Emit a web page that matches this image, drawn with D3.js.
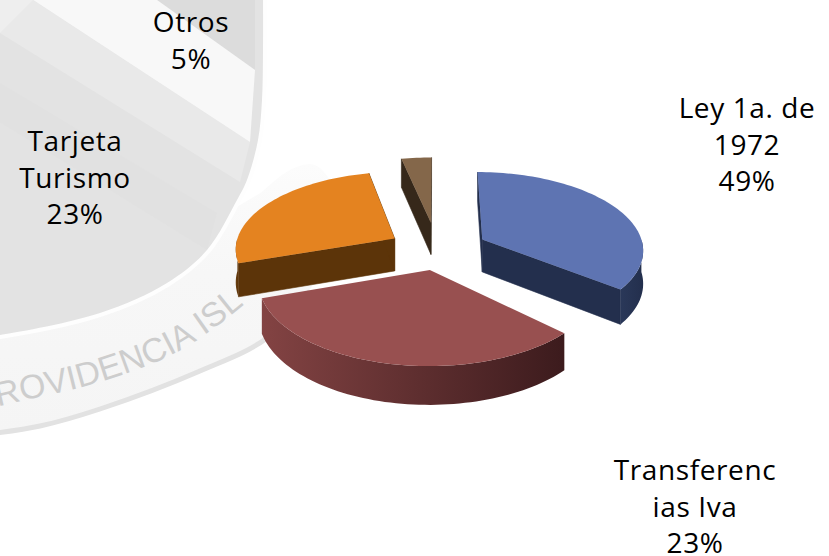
<!DOCTYPE html>
<html><head><meta charset="utf-8">
<script src="https://cdn.jsdelivr.net/npm/d3@7/dist/d3.min.js"></script>
<style>html,body{margin:0;padding:0;background:#fff}svg{display:block}</style>
</head><body><svg id="c" width="829" height="556"></svg>
<script>
// Data
const categories = ["Ley 1a. de 1972","Transferencias Iva","Tarjeta Turismo","Otros"];
const labelPercents = [49,23,23,5];           // printed labels
const drawnShares = [35.6,34.2,26.8,3.4];     // angular share of each slice as actually drawn
const labelLines = [["Ley 1a. de","1972"],["Transferenc","ias Iva"],["Tarjeta","Turismo"],["Otros"]];
const labelCentres = [[747,118],[695,480],[75,151],[191,32]];
// Styling
const explode = [0.31,0.25,0.30,0.36];
const radiusFactor = [0.98,1,0.97,1];
const startTrim = [0,0.09,0,0];
const topColors = ["#5e74b2","#985050","#e48320","#84674a"];
const faceColors = ["#232f4d","#3f1d1e","#5c3409","#36281a"];
const rimLeft = ["#2a3859","#834343","#6b4012","#36281a"];
const rimRight = ["#232f4d","#3c1b1d","#5c3409","#36281a"];

const W=829,H=556,cx=437,cy=250,R=165,q=0.48,p=0.12,depth=33;
const svg=d3.select("#c");
const defs=svg.append("defs");

// ---- watermark ----
const wm=svg.append("g");
const line=d3.line().curve(d3.curveCatmullRom);
const bandEdge=[[-20,434],[40,425],[100,408],[200,370],[267,337],[310,290],[330,232],[335,192],[315,165],[290,170],[262,192]];
const disc=[[-100,345],[-20,337],[0,335],[100,313],[167,283],[207,250],[237,200],[247,180],[258,140],[262,100],[263,50],[263,-20],[263,-80],[-100,-80]];
const bandFill=defs.append("linearGradient").attr("id","bandFill").attr("x1",0).attr("x2",0).attr("y1",0).attr("y2",1);
bandFill.append("stop").attr("offset",0).attr("stop-color","#fcfcfc");
bandFill.append("stop").attr("offset",0.4).attr("stop-color","#f7f7f7");
bandFill.append("stop").attr("offset",1).attr("stop-color","#f5f5f5");
wm.append("path").attr("d",line(bandEdge)+"L240,205L-20,345Z").attr("fill","url(#bandFill)");
wm.append("path").attr("d",d3.line().curve(d3.curveCatmullRom)(bandEdge.slice(0,6).map(d=>[d[0],d[1]+1]))).attr("fill","none").attr("stroke","#e2e2e2").attr("stroke-width",5);
wm.append("path").attr("d",line(disc)+"Z").attr("fill","#fefefe").attr("stroke","#fefefe").attr("stroke-width",8);
wm.append("path").attr("d",line(disc)+"Z").attr("fill","#e3e3e3");
defs.append("clipPath").attr("id","dc").append("path").attr("d",line(disc)+"Z");
const st=wm.append("g").attr("clip-path","url(#dc)");
st.append("polygon").attr("points","-20,-10 33,0 250,142 240,182 0,33 -20,20").attr("fill","#e9e9e9");
st.append("polygon").attr("points","-20,-10 33,0 0,33 -20,20").attr("fill","#eeeeee");
st.append("polygon").attr("points","143,-10 255,-10 255,70").attr("fill","#dcdcdc");
st.append("polygon").attr("points","18,-10 143,-10 255,70 250,142").attr("fill","#f8f8f8");
st.append("polygon").attr("points","-20,72 0,83 217,213 207,250 -20,110").attr("fill","#e1e1e1");
defs.append("path").attr("id","arcText").attr("d",line([[-35,414],[17,402],[100,382],[177,352],[240,308],[280,270]]));
wm.append("text").attr("font-family","Liberation Sans").attr("font-size",34).attr("fill","#cdcdcd")
  .append("textPath").attr("href","#arcText").attr("startOffset",11).text("PROVIDENCIA ISL");

// ---- pie ----
const pie=d3.pie().sort(null).value(d=>d)(drawnShares);
function project(X,Y,z){const s=1/(1-p*Y/R);return [cx+X*s,cy+(q*Y+z)*s];}
function worldPt(o,a,r){return [o[0]+r*Math.sin(a),o[1]-r*Math.cos(a)];}
const pathLine=d3.line();

const order=[0,2,3,1];
order.forEach(i=>{
  const d=pie[i],mid=(d.startAngle+d.endAngle)/2,e=explode[i]*R,r=R*radiusFactor[i];
  const start=d.startAngle+startTrim[i];
  const o=[e*Math.sin(mid),-e*Math.cos(mid)];
  const arcPts=(a0,a1,z)=>{const n=Math.max(2,Math.ceil((a1-a0)/0.03));
    return d3.range(n+1).map(k=>{const a=a0+(a1-a0)*k/n;const w=worldPt(o,a,r);return project(w[0],w[1],z);});};
  const g=svg.append("g");
  const c0=project(o[0],o[1],0),c1=project(o[0],o[1],depth);
  const startW=worldPt(o,start,r),endW=worldPt(o,d.endAngle,r);
  const s0=project(startW[0],startW[1],0),s1=project(startW[0],startW[1],depth);
  const e0=project(endW[0],endW[1],0),e1=project(endW[0],endW[1],depth);
  // cut faces (the front slice shows none)
  if(i!==1){
    [[c0,s0,s1,c1],[c0,e0,e1,c1]].forEach(f=>{
      g.append("path").attr("d",pathLine(f)+"Z").attr("fill",faceColors[i]).attr("stroke",faceColors[i]).attr("stroke-width",0.6);
    });
  }
  // outer rim (front part only)
  const a0=Math.max(start,Math.PI/2),a1=Math.min(d.endAngle,1.5*Math.PI);
  if(a1>a0){
    const t=arcPts(a0,a1,0),b=arcPts(a0,a1,depth).reverse();
    const xs=t.map(v=>v[0]);
    const id="rim"+i;
    const gr=defs.append("linearGradient").attr("id",id).attr("gradientUnits","userSpaceOnUse")
      .attr("x1",d3.min(xs)).attr("x2",d3.max(xs)).attr("y1",0).attr("y2",0);
    gr.append("stop").attr("offset",0).attr("stop-color",rimLeft[i]);
    gr.append("stop").attr("offset",1).attr("stop-color",rimRight[i]);
    g.append("path").attr("d",pathLine(t.concat(b))+"Z").attr("fill",`url(#${id})`);
  }
  // top
  g.append("path").attr("d",pathLine([c0].concat(arcPts(start,d.endAngle,0)))+"Z").attr("fill",topColors[i]);
});

// ---- labels ----
labelLines.forEach((ls,i)=>{
  const t=svg.append("text").attr("text-anchor","middle").attr("font-family","Open Sans").attr("font-size",28).attr("letter-spacing",0.6).attr("fill","#000");
  ls.concat([labelPercents[i]+"%"]).forEach((s,j)=>{
    t.append("tspan").attr("x",labelCentres[i][0]).attr("y",labelCentres[i][1]+j*36.5).text(s);
  });
});
</script></body></html>
